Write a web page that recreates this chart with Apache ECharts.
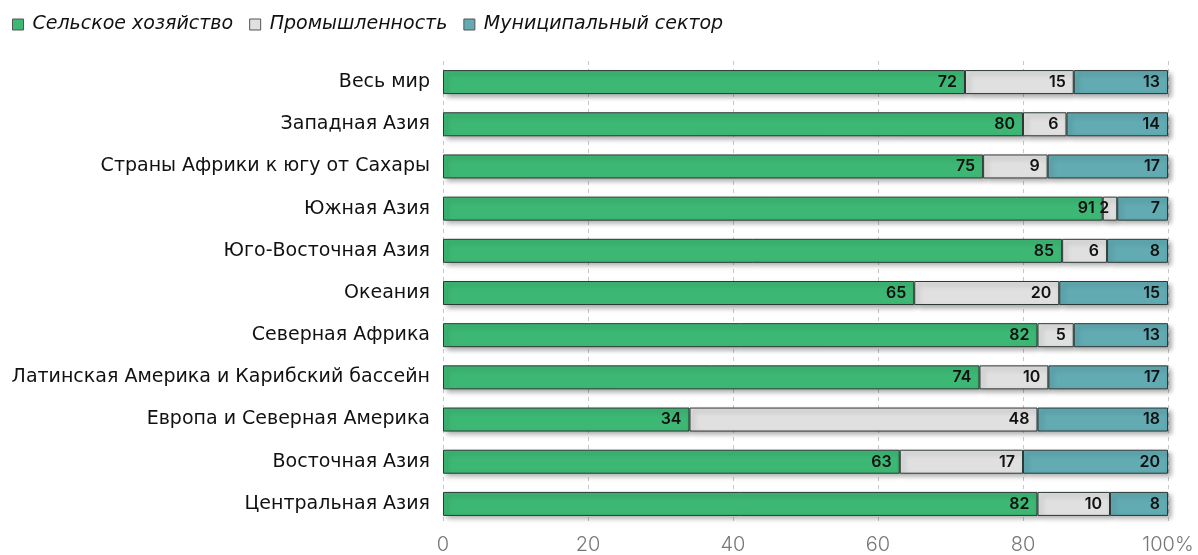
<!DOCTYPE html>
<html><head><meta charset="utf-8">
<script src="https://cdn.jsdelivr.net/npm/echarts@6/dist/echarts.min.js"></script>
<style>html,body{margin:0;padding:0;background:#fff}#c{width:1198px;height:555px}</style>
</head><body><div id="c"></div>
<script>
const categories = ['Весь мир','Западная Азия','Страны Африки к югу от Сахары','Южная Азия','Юго-Восточная Азия','Океания','Северная Африка','Латинская Америка и Карибский бассейн','Европа и Северная Америка','Восточная Азия','Центральная Азия'];
const seriesNames = ['Сельское хозяйство','Промышленность','Муниципальный сектор'];
const agriculture = [72, 80, 74.5, 91, 85.4, 65, 82, 74, 34, 63, 82];
const industry = [15, 6, 8.9, 2, 6.2, 20, 5, 9.5, 48, 17, 10];
const municipal = [13, 14, 16.6, 7, 8.4, 15, 13, 16.5, 18, 20, 8];
const xTicks = [0, 20, 40, 60, 80, 100];
const colors = ['#3db874', '#e0e0e0', '#62abb3'];

const FONT = 'Inter';
const WIDE = 'DejaVu Sans';
const chart = echarts.init(document.getElementById('c'), null, {renderer: 'canvas'});
const mk = (name, data, i) => ({
  name, type: 'bar', stack: 'total', data, barWidth: 24,
  itemStyle: {color: colors[i], borderColor: '#2e3836', borderWidth: 1,
    shadowColor: 'rgba(0,0,0,0.35)', shadowBlur: 5, shadowOffsetX: 3, shadowOffsetY: 3},
  label: {show: true, position: 'insideRight', distance: 8, color: '#111',
    fontFamily: FONT, fontSize: 16, fontWeight: 600,
    formatter: p => Math.round(p.value)},
  emphasis: {disabled: true}
});
chart.setOption({
  animation: false,
  color: colors,
  legend: {left: 7, top: 10, itemWidth: 11, itemHeight: 11, itemGap: 16, icon: 'rect',
    textStyle: {fontFamily: WIDE, fontSize: 19, fontStyle: 'italic', color: '#111', padding: [0, 0, 0, 4]},
    itemStyle: {shadowBlur: 0, shadowOffsetX: 0, shadowOffsetY: 0, borderColor: '#555', borderWidth: 1},
    data: seriesNames},
  grid: {left: 443, right: 30, top: 61, bottom: 27, containLabel: false},
  xAxis: {type: 'value', min: 0, max: 100, interval: 20,
    axisLine: {show: false}, axisTick: {show: false},
    splitLine: {show: true, lineStyle: {type: [4, 4], color: '#c8c8c8', width: 1}},
    axisLabel: {fontFamily: FONT, fontSize: 20, fontWeight: 300, color: '#777', margin: 10,
      formatter: v => xTicks.includes(v) ? (v === 100 ? '100%' : String(v)) : ''}},
  yAxis: {type: 'category', data: categories, inverse: true,
    axisLine: {show: false}, axisTick: {show: false},
    axisLabel: {fontFamily: WIDE, fontSize: 19, color: '#111', margin: 13}},
  series: [mk(seriesNames[0], agriculture, 0), mk(seriesNames[1], industry, 1), mk(seriesNames[2], municipal, 2)]
});
</script></body></html>
